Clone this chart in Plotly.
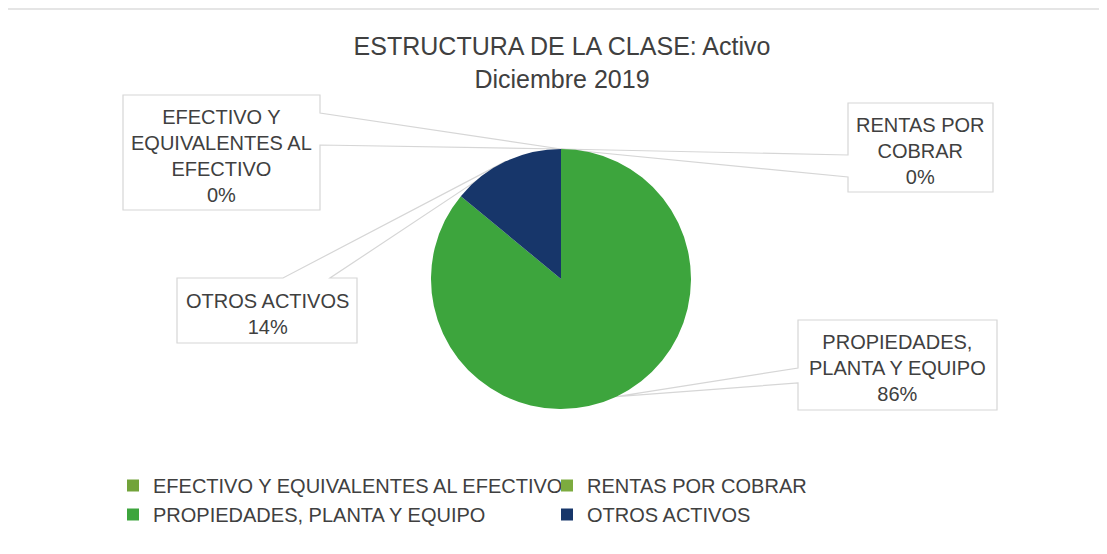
import math
import textwrap

import plotly.graph_objects as go

W, H = 1107, 554
OFF = 8  # the page body adds an 8px margin; coordinates below are screen pixels

# --- data ---
labels = [
    "EFECTIVO Y EQUIVALENTES AL EFECTIVO",
    "RENTAS POR COBRAR",
    "PROPIEDADES, PLANTA Y EQUIPO",
    "OTROS ACTIVOS",
]
values = [0, 0, 86, 14]
colors = ["#72a33a", "#7cab3f", "#3da53d", "#17366a"]
title_lines = ["ESTRUCTURA DE LA CLASE: Activo", "Diciembre 2019"]

# --- geometry (screen pixels) ---
CX, CY, R = 561, 279, 130
# callout boxes: left, top, right, bottom, side of the pointer, pointer base (2 coords)
boxes = [
    (123, 95, 320, 210, "right", (113, 145)),
    (848, 103, 993, 192, "left", (155, 177)),
    (798, 320, 997, 410, "left", (368, 383)),
    (177, 278, 357, 343, "top", (283, 330)),
]
TEXT = "#404040"
FONT = "Liberation Sans, Arial, sans-serif"


def px(x):
    return (x - OFF) / W


def py(y):
    return 1 - (y - OFF) / H


total = sum(values)
apex = []
cum = 0.0
for v in values:
    mid = (cum + v / 2) / total * 2 * math.pi
    apex.append((CX + R * math.sin(mid), CY - R * math.cos(mid)))
    cum += v

fig = go.Figure(go.Pie(
    labels=labels,
    values=values,
    marker=dict(colors=colors),
    sort=False,
    direction="clockwise",
    rotation=0,
    textinfo="none",
    hoverinfo="label+percent",
    domain=dict(x=[px(CX - R), px(CX + R)], y=[py(CY + R), py(CY - R)]),
))


def callout_path(box, tip):
    l, t, r, b, side, (p1, p2) = box
    ax, ay = tip
    if side == "right":
        pts = [(l, t), (r, t), (r, p1), (ax, ay), (r, p2), (r, b), (l, b)]
    elif side == "left":
        pts = [(l, t), (r, t), (r, b), (l, b), (l, p2), (ax, ay), (l, p1)]
    else:
        pts = [(l, t), (p1, t), (ax, ay), (p2, t), (r, t), (r, b), (l, b)]
    return "M " + " L ".join(f"{px(x):.5f},{py(y):.5f}" for x, y in pts) + " Z"


shapes = [dict(type="line", xref="paper", yref="paper",
               x0=0, x1=1, y0=py(9), y1=py(9),
               line=dict(color="#dcdcdc", width=1.5), layer="below")]
annotations = []
for i, box in enumerate(boxes):
    shapes.append(dict(type="path", xref="paper", yref="paper",
                       path=callout_path(box, apex[i]),
                       fillcolor="white", line=dict(color="#d6d6d6", width=1.2),
                       layer="below"))
    pct = f"{round(values[i] / total * 100)}%"
    text = "<br>".join(textwrap.wrap(labels[i], 15) + [pct])
    l, t, r, b = box[:4]
    annotations.append(dict(
        xref="paper", yref="paper",
        x=px((l + r) / 2), y=py((t + b) / 2 + 3),
        xanchor="center", yanchor="middle",
        text=text, showarrow=False, align="center",
        font=dict(family=FONT, size=20, color=TEXT),
    ))

fig.update_layout(
    width=W, height=H,
    margin=dict(l=0, r=0, t=0, b=0),
    paper_bgcolor="white",
    font=dict(family=FONT, color=TEXT),
    title=dict(
        text="<br>".join(title_lines),
        x=px(562), xanchor="center",
        y=py(55), yanchor="middle",
        font=dict(family=FONT, size=25, color=TEXT),
    ),
    showlegend=True,
    legend=dict(
        orientation="h",
        x=px(113), xanchor="left",
        y=py(466), yanchor="top",
        entrywidth=389, entrywidthmode="pixels",
        font=dict(family=FONT, size=20, color=TEXT),
        traceorder="normal",
    ),
    shapes=shapes,
    annotations=annotations,
)

fig.write_html("out.html")
